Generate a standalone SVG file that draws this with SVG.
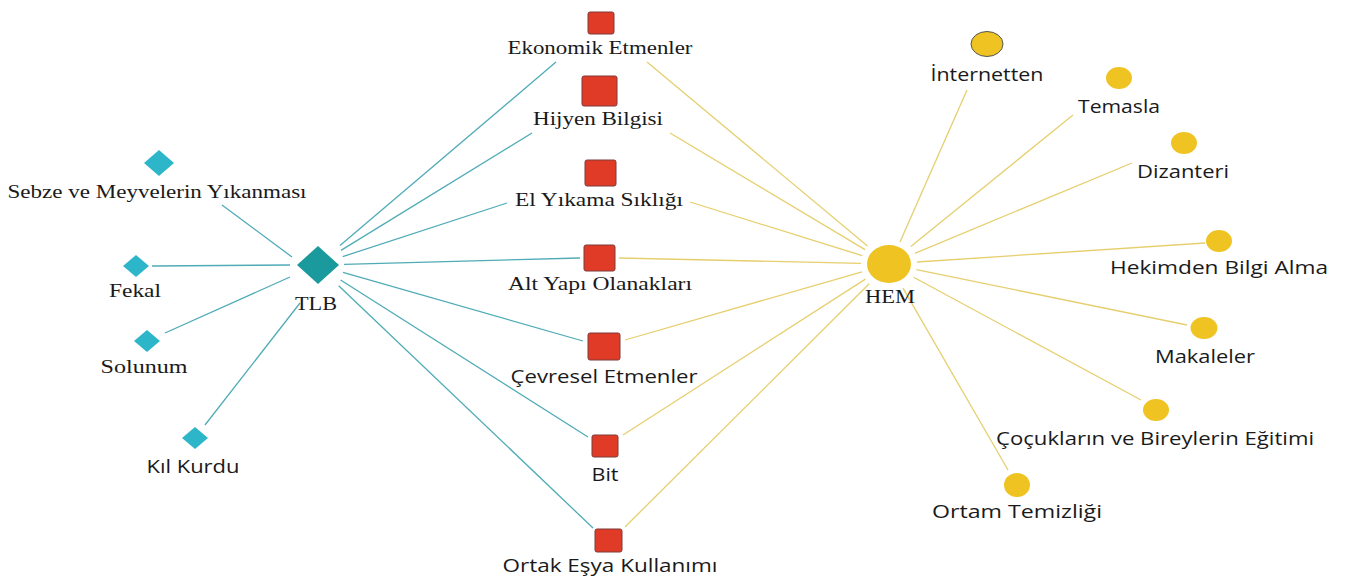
<svg xmlns="http://www.w3.org/2000/svg" width="1345" height="581" viewBox="0 0 1345 581">
<style>
.serif{font-family:"Liberation Serif","Times New Roman",serif;font-size:19px;fill:#1a1a1a;text-anchor:middle}
.sans{font-family:"Open Sans","Noto Sans","DejaVu Sans",sans-serif;font-size:18px;fill:#1a1a1a;text-anchor:middle}
.tl{stroke:#4fabb6;stroke-width:1.3;fill:none}
.yl{stroke:#e6cf6e;stroke-width:1.3;fill:none}
.dia{fill:#2db6c9}
.dia-main{fill:#1a9a9c}
.sq{fill:#e03b27;stroke:#7d3a3a;stroke-width:1}
.circ{fill:#efc322}
</style>
<rect width="1345" height="581" fill="#ffffff"/>
<g id="connectors">
<line class="tl" x1="222" y1="205" x2="292" y2="257"/>
<line class="tl" x1="152" y1="266" x2="290" y2="265"/>
<line class="tl" x1="165" y1="333" x2="290" y2="277"/>
<line class="tl" x1="205" y1="425" x2="300" y2="303"/>
<line class="tl" x1="340" y1="245.6" x2="556" y2="62"/>
<line class="tl" x1="341" y1="250.4" x2="532" y2="133"/>
<line class="tl" x1="342.7" y1="256.6" x2="507" y2="203"/>
<line class="tl" x1="344" y1="264.3" x2="580" y2="258"/>
<line class="tl" x1="343" y1="272.4" x2="583" y2="341"/>
<line class="tl" x1="340.6" y1="280" x2="588" y2="437"/>
<line class="tl" x1="338.7" y1="285.7" x2="593" y2="528"/>
<line class="yl" x1="647" y1="62" x2="867.5" y2="246.1"/>
<line class="yl" x1="670" y1="133" x2="865" y2="249.6"/>
<line class="yl" x1="690" y1="202" x2="862.3" y2="255.7"/>
<line class="yl" x1="619" y1="258" x2="861" y2="263.4"/>
<line class="yl" x1="625" y1="340" x2="862.1" y2="271.8"/>
<line class="yl" x1="623" y1="435" x2="865.4" y2="279.1"/>
<line class="yl" x1="625" y1="527" x2="869.2" y2="283.8"/>
<line class="yl" x1="967" y1="90" x2="900" y2="242"/>
<line class="yl" x1="1073" y1="115" x2="910.8" y2="246.4"/>
<line class="yl" x1="1132" y1="163" x2="914.8" y2="253.3"/>
<line class="yl" x1="1205" y1="243" x2="917" y2="262"/>
<line class="yl" x1="1187" y1="325" x2="916.4" y2="269.6"/>
<line class="yl" x1="1141" y1="400" x2="913.6" y2="277.3"/>
<line class="yl" x1="1008" y1="470" x2="903" y2="288.2"/>
</g>
<g id="node-sebze"><polygon class="dia" points="159,150 174,163 159,176 144,163"/><text class="serif" x="157" y="198" textLength="299" lengthAdjust="spacingAndGlyphs">Sebze ve Meyvelerin Yıkanması</text></g>
<g id="node-fekal"><polygon class="dia" points="136,255 149,266 136,277 123,266"/><text class="serif" x="135" y="297" textLength="52" lengthAdjust="spacingAndGlyphs">Fekal</text></g>
<g id="node-solunum"><polygon class="dia" points="147,330 160,341 147,352 134,341"/><text class="serif" x="144" y="373" textLength="87" lengthAdjust="spacingAndGlyphs">Solunum</text></g>
<g id="node-kilkurdu"><polygon class="dia" points="195,427 208,438 195,449 182,438"/><text class="sans" x="193" y="473" textLength="93" lengthAdjust="spacingAndGlyphs">Kıl Kurdu</text></g>
<g id="node-tlb"><polygon class="dia-main" points="318,246 339,265 318,284 297,265"/><text class="serif" x="316" y="310" textLength="42" lengthAdjust="spacingAndGlyphs">TLB</text></g>
<g id="node-ekonomik"><rect class="sq" x="588" y="12" width="26" height="22" rx="2"/><text class="serif" x="600" y="54" textLength="185" lengthAdjust="spacingAndGlyphs">Ekonomik Etmenler</text></g>
<g id="node-hijyen"><rect class="sq" x="582" y="76" width="35" height="30" rx="2"/><text class="serif" x="598" y="125" textLength="130" lengthAdjust="spacingAndGlyphs">Hijyen Bilgisi</text></g>
<g id="node-elyikama"><rect class="sq" x="585" y="160" width="31" height="26" rx="2"/><text class="serif" x="599" y="206" textLength="168" lengthAdjust="spacingAndGlyphs">El Yıkama Sıklığı</text></g>
<g id="node-altyapi"><rect class="sq" x="584" y="245" width="31" height="26" rx="2"/><text class="serif" x="600" y="290" textLength="184" lengthAdjust="spacingAndGlyphs">Alt Yapı Olanakları</text></g>
<g id="node-cevresel"><rect class="sq" x="588" y="333" width="32" height="27" rx="2"/><text class="sans" x="604" y="383" textLength="187" lengthAdjust="spacingAndGlyphs">Çevresel Etmenler</text></g>
<g id="node-bit"><rect class="sq" x="592" y="435" width="26" height="22" rx="2"/><text class="sans" x="605" y="481" textLength="27" lengthAdjust="spacingAndGlyphs">Bit</text></g>
<g id="node-ortak"><rect class="sq" x="595" y="529" width="27" height="23" rx="2"/><text class="sans" x="610" y="572" textLength="215" lengthAdjust="spacingAndGlyphs">Ortak Eşya Kullanımı</text></g>
<g id="node-hem"><ellipse class="circ" cx="889" cy="264" rx="22" ry="19"/><text class="serif" x="890" y="303" textLength="50" lengthAdjust="spacingAndGlyphs">HEM</text></g>
<g id="node-internetten"><ellipse class="circ" cx="987" cy="44" rx="16" ry="12.5" stroke="#555" stroke-width="1"/><text class="sans" x="987" y="81" textLength="113" lengthAdjust="spacingAndGlyphs">İnternetten</text></g>
<g id="node-temasla"><ellipse class="circ" cx="1119" cy="78" rx="13" ry="11"/><text class="sans" x="1119" y="113" textLength="82" lengthAdjust="spacingAndGlyphs">Temasla</text></g>
<g id="node-dizanteri"><ellipse class="circ" cx="1184" cy="143" rx="13" ry="11"/><text class="sans" x="1183" y="178" textLength="92" lengthAdjust="spacingAndGlyphs">Dizanteri</text></g>
<g id="node-hekimden"><ellipse class="circ" cx="1219" cy="241" rx="13" ry="11"/><text class="sans" x="1219" y="274" textLength="218" lengthAdjust="spacingAndGlyphs">Hekimden Bilgi Alma</text></g>
<g id="node-makaleler"><ellipse class="circ" cx="1204" cy="328" rx="13.5" ry="11"/><text class="sans" x="1205" y="363" textLength="100" lengthAdjust="spacingAndGlyphs">Makaleler</text></g>
<g id="node-cocuklarin"><ellipse class="circ" cx="1156" cy="410" rx="13" ry="11"/><text class="sans" x="1155" y="445" textLength="318" lengthAdjust="spacingAndGlyphs">Çoçukların ve Bireylerin Eğitimi</text></g>
<g id="node-ortam"><ellipse class="circ" cx="1017" cy="485" rx="13" ry="12"/><text class="sans" x="1017" y="518" textLength="170" lengthAdjust="spacingAndGlyphs">Ortam Temizliği</text></g>
</svg>
